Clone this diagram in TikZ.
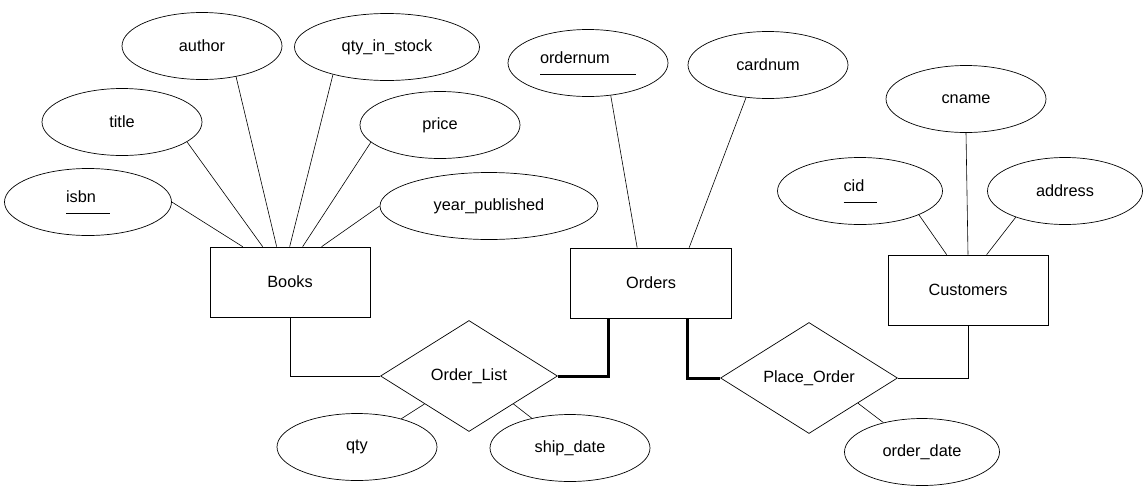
\documentclass[tikz,border=0pt]{standalone}
\usepackage{fontspec}
\setmainfont{Liberation Sans}
\usetikzlibrary{shapes.geometric, calc}
% key attribute: text with a rule under it
\newcommand{\keyattr}[2]{\rlap{\rule[-11pt]{#2}{0.7pt}}\makebox[#2][l]{#1}}

\begin{document}
\begin{tikzpicture}[
                x=1pt, y=-1pt,
                attr/.style={
                    draw,
                    ellipse,
                    line width=0.7pt,
                    minimum width=160pt,
                    minimum height=67pt,
                    inner sep=0pt
                },
                entity/.style={
                    draw,
                    line width=0.7pt,
                    minimum width=160pt,
                    minimum height=70pt
                },
                rel/.style={
                    draw,
                    diamond,
                    line width=0.7pt,
                    minimum width=177pt,
                    minimum height=111pt,
                    inner sep=0pt
                },
                link/.style={line width=0.6pt},
                total/.style={line width=3pt},
                every node/.style={font=\fontsize{16.3}{19}\selectfont}
            ]
                \useasboundingbox (0,0) rectangle (1145,485);

                % entities
                \node[entity] (books) at (290,282) {Books};
                \node[entity, minimum width=161pt] (orders) at (651,283) {Orders};
                \node[entity] (cust) at (968,290) {Customers};

                % relationships
                \node[rel] (ordlist) at (469,376) {Order\_List};
                \node[rel] (placeord) at (809,378) {Place\_Order};

                % attributes of Books
                \node[attr, minimum width=167pt] (isbn) at (88,202) {\keyattr{isbn}{44pt}};
                \node[attr] (title) at (122,122) {title};
                \node[attr] (author) at (202,46) {author};
                \node[attr, minimum width=185pt] (stock) at (387,47) {qty\_in\_stock};
                \node[attr] (price) at (440,125) {price};
                \node[attr, minimum width=218pt] (year) at (489,206) {year\_published};

                % attributes of Orders
                \node[attr] (ordnum) at (588,63) {\keyattr{ordernum}{96pt}};
                \node[attr] (card) at (768,65) {cardnum};

                % attributes of Customers
                \node[attr] (cname) at (966,99) {cname};
                \node[attr, minimum width=165pt] (cid) at (860,191) {\keyattr{cid}{33pt}};
                \node[attr, minimum width=155pt] (addr) at (1065,191) {address};

                % attributes of relationships
                \node[attr] (qty) at (357,447) {qty};
                \node[attr] (ship) at (570,448) {ship\_date};
                \node[attr, minimum width=155pt] (odate) at (922,452) {order\_date};

                \draw[link] (isbn.east) -- ([xshift=33pt]books.north west);
                \draw[link] (title.-17) -- ([xshift=53pt]books.north west);
                \draw[link] (author.-42) -- ([xshift=67pt]books.north west);
                \draw[link] (stock.-153) -- ([xshift=80pt]books.north west);
                \draw[link] (price.-166) -- ([xshift=93pt]books.north west);
                \draw[link] (year.west) -- ([xshift=112pt]books.north west);

                \draw[link] (ordnum.-55) -- ([xshift=67pt]orders.north west);
                \draw[link] (card.-124) -- ([xshift=119pt]orders.north west);

                \draw[link] (cname.south) -- (cust.north);
                \draw[link] (cid.-22) -- ([xshift=59pt]cust.north west);
                \draw[link] (addr.-152) -- ([xshift=99pt]cust.north west);

                \draw[link] (qty) -- ($(ordlist.west)!0.5!(ordlist.south)$);
                \draw[link] (ship) -- ($(ordlist.south)!0.5!(ordlist.east)$);
                \draw[link] (odate) -- ($(placeord.south)!0.55!(placeord.east)$);

                \draw[link] (books.south) |- (ordlist.west);
                \draw[total] (ordlist.east) -| ([xshift=38pt]orders.south west);
                \draw[total] ([xshift=117pt]orders.south west) |- (placeord.west);
                \draw[link] (placeord.east) -| (cust.south);
            \end{tikzpicture}
\end{document}
